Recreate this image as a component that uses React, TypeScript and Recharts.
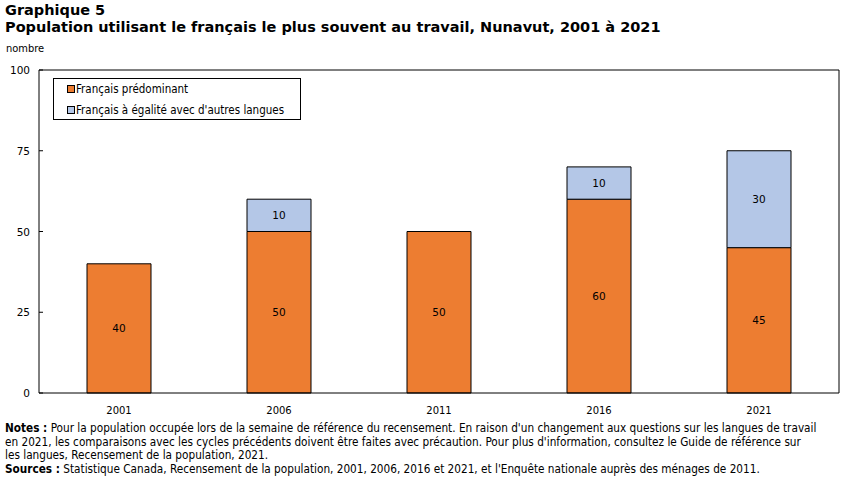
import React from 'react';
import { BarChart, Bar, XAxis, YAxis, LabelList, ReferenceLine } from 'recharts';

const years = ['2001', '2006', '2011', '2016', '2021'];
const predominant = [40, 50, 50, 60, 45];
const egalite: (number | null)[] = [null, 10, null, 10, 30];
const yTicks = [0, 25, 50, 75, 100];
const seriesNames = ['Français prédominant', "Français à égalité avec d'autres langues"];
const colors = ['#ED7D31', '#B4C7E7'];

const data = years.map((y, i) => ({ year: y, a: predominant[i], b: egalite[i] }));

const FONT = '"DejaVu Sans", Verdana, sans-serif';
const COND = '"DejaVu Sans Condensed", "DejaVu Sans", sans-serif';

const YTick = (props: any) => {
  const { x, y, payload } = props;
  return (
    <g>
      <line x1={x} x2={x + 4} y1={y} y2={y} stroke="#000" strokeWidth={1} />
      <text x={x - 9} y={y} dy={4} textAnchor="end" fontSize={10.5} fontFamily={FONT} fill="#000">
        {payload.value}
      </text>
    </g>
  );
};

const labelFmt = (v: any) => (v === null || v === undefined || v === 0 ? '' : v);

const noteLines: [string, string][] = [
  ['Notes :', " Pour la population occupée lors de la semaine de référence du recensement. En raison d'un changement aux questions sur les langues de travail"],
  ['', "en 2021, les comparaisons avec les cycles précédents doivent être faites avec précaution. Pour plus d'information, consultez le Guide de référence sur"],
  ['', 'les langues, Recensement de la population, 2021.'],
  ['Sources :', " Statistique Canada, Recensement de la population, 2001, 2006, 2016 et 2021, et l'Enquête nationale auprès des ménages de 2011."],
];

export default function App() {
  return (
    <div style={{ position: 'absolute', left: 0, top: 0, width: 852, height: 480, background: '#fff', overflow: 'hidden' }}>
      <div style={{ position: 'absolute', left: 5, top: 1.5, fontFamily: FONT, fontWeight: 'bold', fontSize: 14.5, lineHeight: '17px', color: '#000', whiteSpace: 'nowrap' }}>
        <div>Graphique 5</div>
        <div>Population utilisant le français le plus souvent au travail, Nunavut, 2001 à 2021</div>
      </div>
      <div style={{ position: 'absolute', left: 6, top: 42, fontFamily: COND, fontSize: 11, color: '#000' }}>nombre</div>
      <div style={{ position: 'absolute', left: 0, top: 0 }}>
        <BarChart width={852} height={480} data={data} margin={{ top: 70, right: 12, bottom: 57, left: 9 }} barCategoryGap="30%">
          <XAxis
            dataKey="year"
            height={30}
            tickLine={false}
            axisLine={{ stroke: '#000' }}
            tick={{ fontSize: 10, fontFamily: FONT, fill: '#000' }}
            tickMargin={8}
          />
          <YAxis
            yAxisId="left"
            width={30}
            domain={[0, 100]}
            ticks={yTicks}
            interval={0}
            tickLine={false}
            tickSize={0}
            tickMargin={0}
            axisLine={{ stroke: '#000' }}
            tick={<YTick />}
          />
          <YAxis yAxisId="right" orientation="right" width={1} domain={[0, 100]} tick={false} tickLine={false} axisLine={{ stroke: '#000' }} />
          <ReferenceLine yAxisId="left" y={100} stroke="#000" />
          <Bar yAxisId="left" dataKey="a" stackId="s" fill={colors[0]} stroke="#000" strokeWidth={1} isAnimationActive={false} name={seriesNames[0]}>
            <LabelList dataKey="a" position="center" formatter={labelFmt} style={{ fontSize: 10.5, fontFamily: FONT, fill: '#000' }} />
          </Bar>
          <Bar yAxisId="left" dataKey="b" stackId="s" fill={colors[1]} stroke="#000" strokeWidth={1} isAnimationActive={false} name={seriesNames[1]}>
            <LabelList dataKey="b" position="center" formatter={labelFmt} style={{ fontSize: 10.5, fontFamily: FONT, fill: '#000' }} />
          </Bar>
        </BarChart>
      </div>
      <div
        style={{
          position: 'absolute',
          left: 53,
          top: 78,
          width: 248,
          height: 42,
          boxSizing: 'border-box',
          border: '1px solid #000',
          background: '#fff',
          fontFamily: COND,
          fontSize: 11.5,
          color: '#000',
          paddingLeft: 13,
          paddingTop: 1,
        }}
      >
        {seriesNames.map((n, i) => (
          <div key={n} style={{ display: 'flex', alignItems: 'center', height: 18, marginBottom: i === 0 ? 3 : 0, whiteSpace: 'nowrap' }}>
            <span
              style={{
                display: 'inline-block',
                width: 6,
                height: 6,
                background: colors[i],
                border: '1px solid #000',
                marginRight: 1,
              }}
            />
            <span>{n}</span>
          </div>
        ))}
      </div>
      <div style={{ position: 'absolute', left: 5, top: 422, fontFamily: COND, fontSize: 11.7, lineHeight: '13.7px', color: '#000', whiteSpace: 'nowrap' }}>
        {noteLines.map(([b, t], i) => (
          <div key={i}>
            {b ? <b>{b}</b> : null}
            <span>{t}</span>
          </div>
        ))}
      </div>
    </div>
  );
}
